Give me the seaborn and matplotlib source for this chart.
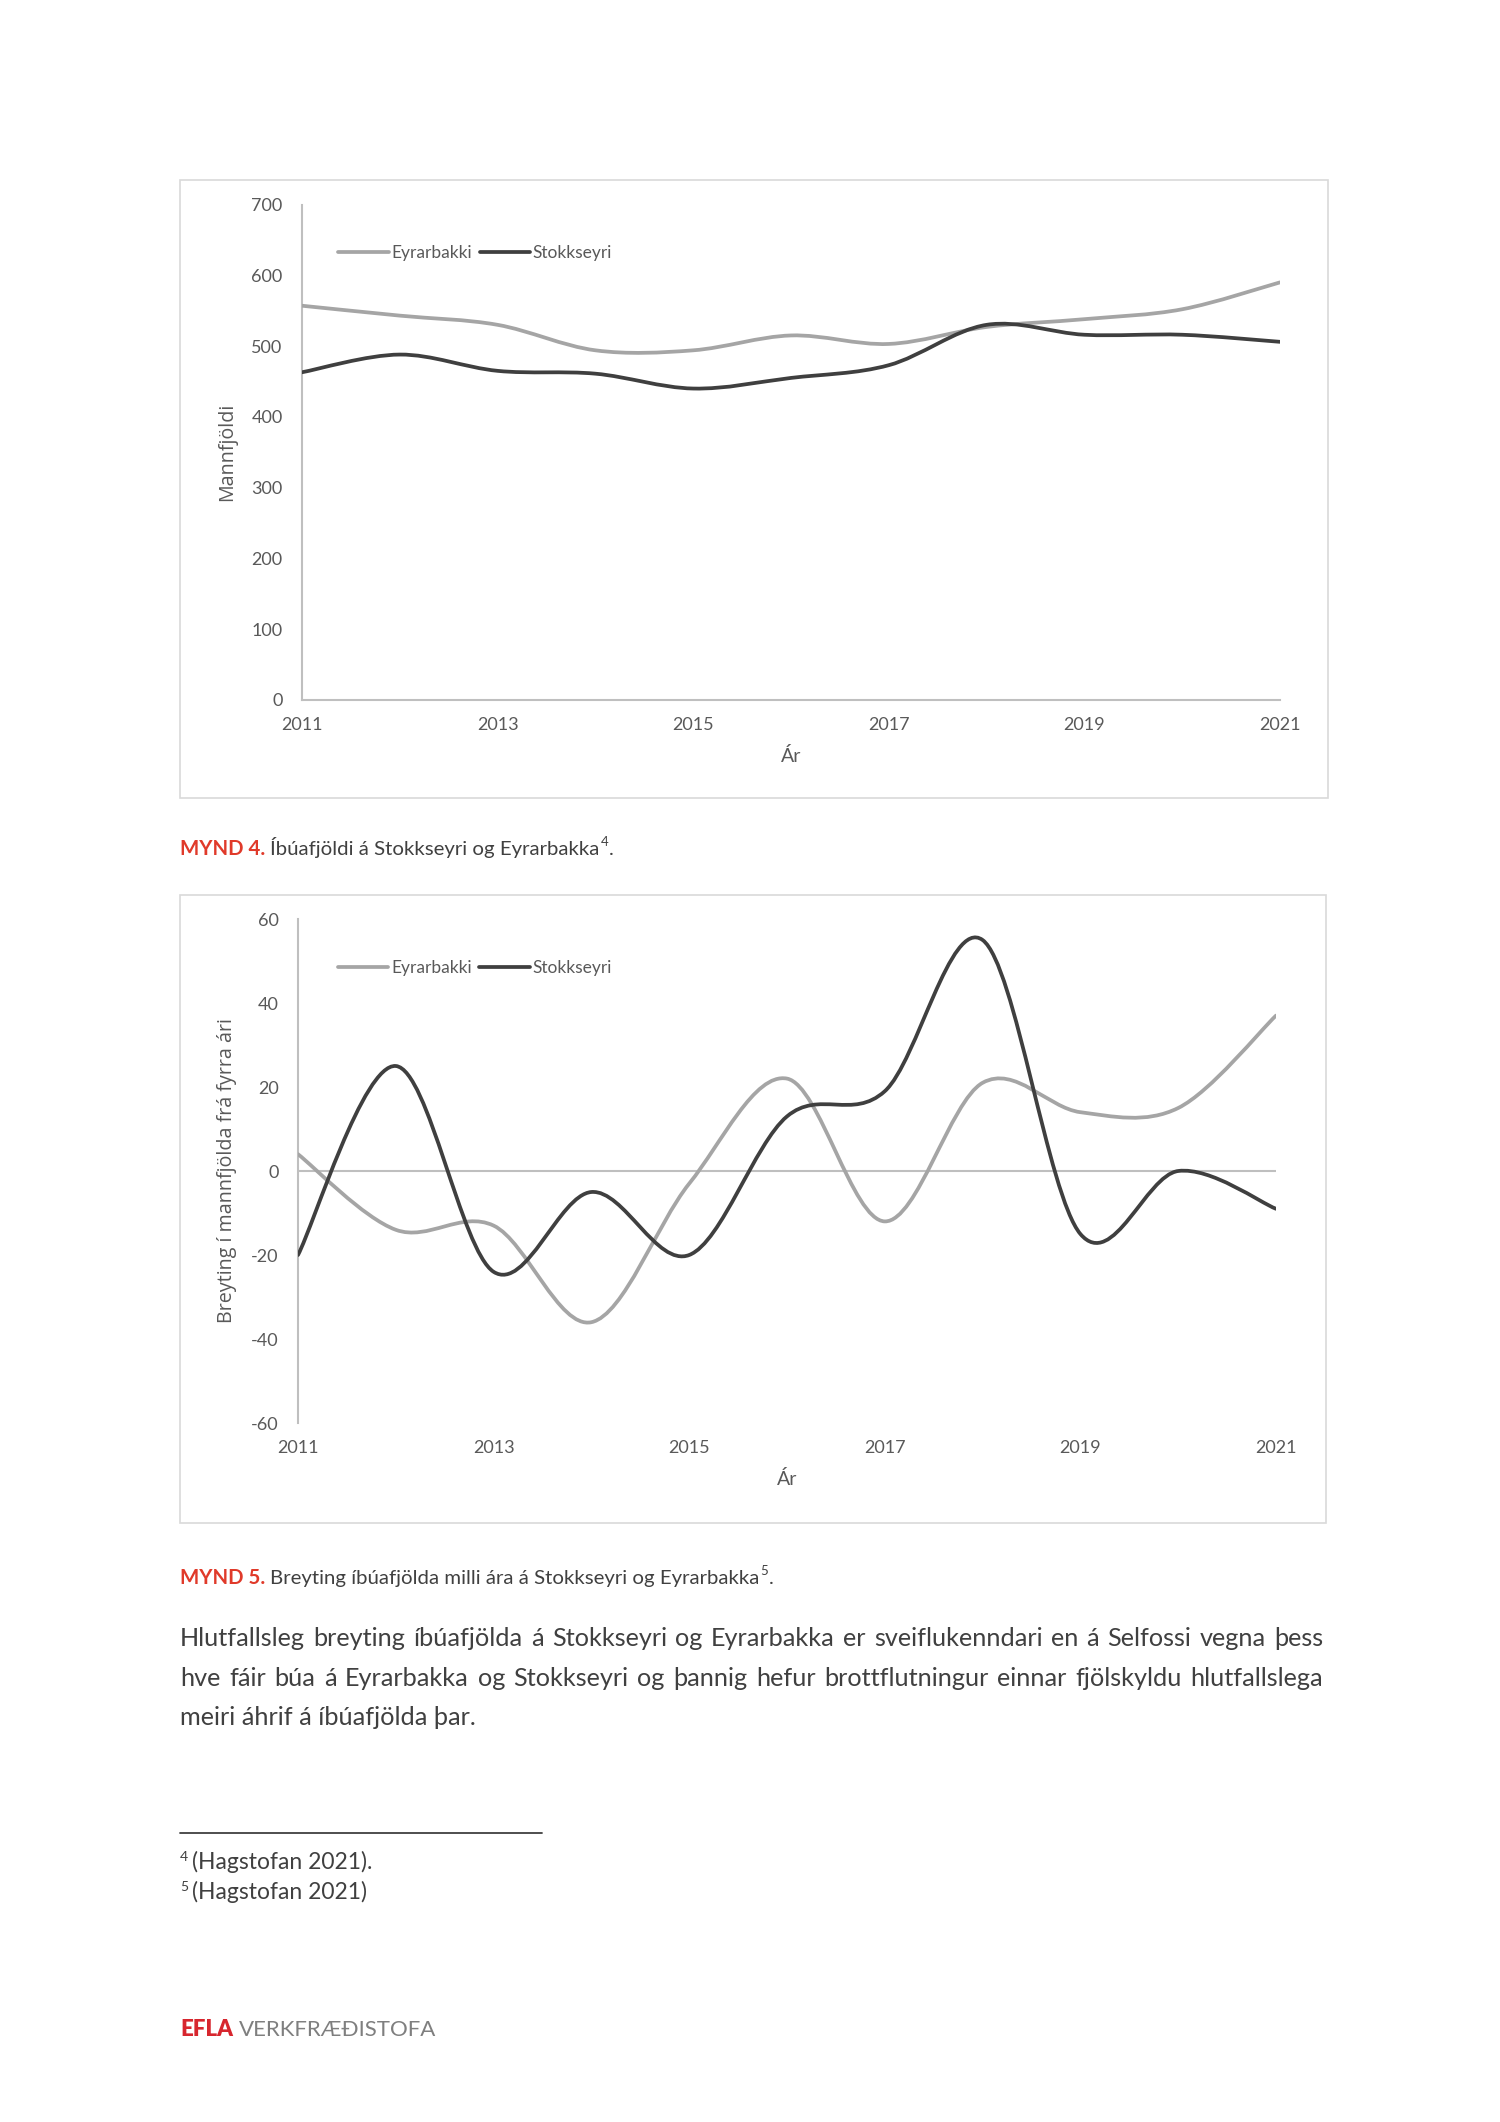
import numpy as np
import pandas as pd
import matplotlib
matplotlib.use('Agg')
import matplotlib.pyplot as plt
from matplotlib.path import Path
from matplotlib.patches import PathPatch, Rectangle
import seaborn as sns

# data
years = [2011, 2012, 2013, 2014, 2015, 2016, 2017, 2018, 2019, 2020, 2021]
pop_eyrarbakki = [557, 543, 530, 494, 494, 515, 503, 527, 538, 552, 590]
pop_stokkseyri = [463, 488, 465, 461, 440, 455, 473, 530, 516, 516, 506]
chg_eyrarbakki = [4, -14, -13, -36, -3, 22, -12, 21, 14, 15, 37]
chg_stokkseyri = [-20, 25, -24, -5, -20, 13, 19, 55, -15, 0, -9]
places = ['Eyrarbakki', 'Stokkseyri']
year_ticks = [2011, 2013, 2015, 2017, 2019, 2021]

palette = {'Eyrarbakki': '#a5a5a5', 'Stokkseyri': '#3f3f3f'}
grey_txt = '#595959'
body_txt = '#404040'
red = '#e03a2a'

sns.set_style('white')
plt.rcParams['font.family'] = ['Lato', 'DejaVu Sans']
plt.rcParams['axes.unicode_minus'] = False

W, H = 1500, 2122
fig = plt.figure(figsize=(W / 100, H / 100), dpi=100)
renderer = fig.canvas.get_renderer()


def smooth_path(xs, ys):
    # excel style smoothed line: cubic bezier through every point
    pts = np.column_stack([xs, ys]).astype(float)
    n = len(pts)
    verts = [pts[0]]
    codes = [Path.MOVETO]
    for i in range(n - 1):
        pm = pts[i - 1] if i > 0 else pts[i]
        pp = pts[i + 2] if i + 2 < n else pts[i + 1]
        c1 = pts[i] + (pts[i + 1] - pm) / 6
        c2 = pts[i + 1] - (pp - pts[i]) / 6
        verts += [c1, c2, pts[i + 1]]
        codes += [Path.CURVE4] * 3
    return Path(verts, codes)


def line_chart(rect, vals_a, vals_b, ylim, yticks, ylabel, ylab_x, xlab_y, leg_xy):
    ax = fig.add_axes(rect)
    df = pd.DataFrame({'year': years * 2,
                       'value': vals_a + vals_b,
                       'place': [places[0]] * len(years) + [places[1]] * len(years)})
    sns.lineplot(data=df, x='year', y='value', hue='place', palette=palette,
                 linewidth=2.7, errorbar=None, ax=ax)
    # swap the straight polylines for smoothed curves
    for ln in list(ax.lines):
        xs, ys = ln.get_data()
        if len(xs) < 2:
            continue
        ax.add_patch(PathPatch(smooth_path(xs, ys), facecolor='none',
                               edgecolor=ln.get_color(), lw=2.7,
                               capstyle='round', joinstyle='round', zorder=3))
        ln.set_visible(False)
    ax.set_xlim(2011, 2021)
    ax.set_ylim(*ylim)
    ax.set_xticks(year_ticks)
    ax.set_yticks(yticks)
    ax.tick_params(length=0, labelsize=13, labelcolor=grey_txt)
    ax.tick_params(axis='y', pad=14)
    ax.tick_params(axis='x', pad=12)
    for s in ['top', 'right']:
        ax.spines[s].set_visible(False)
    ax.spines['left'].set_color('#bfbfbf')
    ax.spines['left'].set_linewidth(1.5)
    ax.spines['bottom'].set_color('#bfbfbf')
    ax.spines['bottom'].set_linewidth(1.5)
    ax.set_ylabel(ylabel, fontsize=14.2, color=grey_txt, family=['Open Sans', 'DejaVu Sans'])
    ax.yaxis.set_label_coords(ylab_x, 0.5)
    ax.set_xlabel('Ár', fontsize=14, color=grey_txt)
    ax.xaxis.set_label_coords(0.5, xlab_y)
    sns.move_legend(ax, 'center left', bbox_to_anchor=leg_xy, ncol=2, title=None,
                    frameon=False, fontsize=12.5, handlelength=2.9, handletextpad=0.15,
                    columnspacing=0.45, borderpad=0, borderaxespad=0)
    for t in ax.get_legend().get_texts():
        t.set_color(grey_txt)
    return ax


# chart boxes
for (x0, y0, x1, y1) in [(180, 180, 1328, 798), (180, 895, 1326, 1523)]:
    fig.patches.append(Rectangle((x0 / W, 1 - y1 / H), (x1 - x0) / W, (y1 - y0) / H,
                                 transform=fig.transFigure, facecolor='none',
                                 edgecolor='#d9d9d9', lw=1.2))

ax1 = line_chart([302 / W, 1 - 700 / H, 978 / W, 495.5 / H], pop_eyrarbakki, pop_stokkseyri,
                 (0, 700), list(range(0, 701, 100)), 'Mannfjöldi', -0.066, -0.095,
                 (0.037, 0.902))

ax2 = line_chart([298 / W, 1 - 1423 / H, 978 / W, 504 / H], chg_eyrarbakki, chg_stokkseyri,
                 (-60, 60), list(range(-60, 61, 20)), 'Breyting í mannfjölda frá fyrra ári',
                 -0.062, -0.093, (0.041, 0.903))
ax2.spines['bottom'].set_visible(False)
ax2.axhline(0, color='#bfbfbf', lw=1.5, zorder=1)


def put(x, y, s, **kw):
    t = fig.text(x / W, 1 - y / H, s, va='baseline', ha='left', **kw)
    return x + t.get_window_extent(renderer).width


# captions
cap_fs = 14.7
x = put(180, 855, 'MYND 4.', fontsize=cap_fs, color=red, fontweight='bold')
x = put(x + 5, 855, 'Íbúafjöldi á Stokkseyri og Eyrarbakka', fontsize=cap_fs, color=body_txt)
x = put(x + 1, 846, '4', fontsize=9.5, color=body_txt)
put(x + 1, 855, '.', fontsize=cap_fs, color=body_txt)

x = put(180, 1584, 'MYND 5.', fontsize=cap_fs, color=red, fontweight='bold')
x = put(x + 5, 1584, 'Breyting íbúafjölda milli ára á Stokkseyri og Eyrarbakka', fontsize=cap_fs, color=body_txt)
x = put(x + 1, 1575, '5', fontsize=9.5, color=body_txt)
put(x + 1, 1584, '.', fontsize=cap_fs, color=body_txt)

# body paragraph, justified
para = ['Hlutfallsleg breyting íbúafjölda á Stokkseyri og Eyrarbakka er sveiflukenndari en á Selfossi vegna þess',
        'hve fáir búa á Eyrarbakka og Stokkseyri og  þannig hefur brottflutningur einnar fjölskyldu hlutfallslega',
        'meiri áhrif á íbúafjölda þar.']
para_y = [1646, 1686, 1725]
left, right = 180, 1323
fs = 18.7
probe = fig.text(0, 0, para[1], fontsize=fs)
natural = probe.get_window_extent(renderer).width
probe.remove()
if natural > (right - left) * 0.985:
    fs = fs * (right - left) * 0.985 / natural
for i, (line, y) in enumerate(zip(para, para_y)):
    words = line.split()
    if i == len(para) - 1:
        put(left, y, line, fontsize=fs, color=body_txt)
        continue
    widths = []
    for w in words:
        t = fig.text(0, 0, w, fontsize=fs)
        widths.append(t.get_window_extent(renderer).width)
        t.remove()
    gap = (right - left - sum(widths)) / (len(words) - 1)
    xx = left
    for w, wd in zip(words, widths):
        put(xx, y, w, fontsize=fs, color=body_txt)
        xx += wd + gap

# footnotes
fig.lines.append(plt.Line2D([180 / W, 542 / W], [1 - 1833 / H] * 2, transform=fig.transFigure,
                            color='#404040', lw=1.3))
x = put(180, 1861, '4', fontsize=10, color=body_txt)
put(x + 4, 1869, '(Hagstofan 2021).', fontsize=16.5, color=body_txt)
x = put(180, 1891, '5', fontsize=10, color=body_txt)
put(x + 4, 1899, '(Hagstofan 2021)', fontsize=16.5, color=body_txt)

# footer logo text
x = put(180, 2036, 'EFLA', fontsize=16, color='#d7262e', fontweight='heavy')
put(x + 6, 2036, 'VERKFRÆÐISTOFA', fontsize=16, color='#7f7f7f')

fig.savefig('out.png', dpi=100, facecolor='white')
